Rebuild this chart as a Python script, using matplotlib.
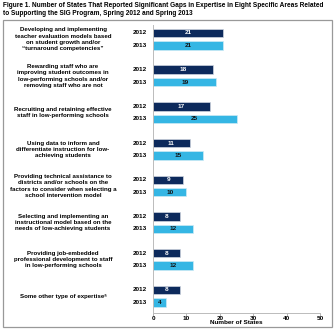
import numpy as np
import matplotlib.pyplot as plt
from matplotlib.patches import Rectangle

plt.rcParams['font.family'] = ['Liberation Sans', 'DejaVu Sans']

# data
categories = [
    "Developing and implementing\nteacher evaluation models based\non student growth and/or\n\u201cturnaround competencies\u201d",
    "Rewarding staff who are\nimproving student outcomes in\nlow-performing schools and/or\nremoving staff who are not",
    "Recruiting and retaining effective\nstaff in low-performing schools",
    "Using data to inform and\ndifferentiate instruction for low-\nachieving students",
    "Providing technical assistance to\ndistricts and/or schools on the\nfactors to consider when selecting a\nschool intervention model",
    "Selecting and implementing an\ninstructional model based on the\nneeds of low-achieving students",
    "Providing job-embedded\nprofessional development to staff\nin low-performing schools",
    "Some other type of expertise\u1d43",
]
vals_2012 = [21, 18, 17, 11, 9, 8, 8, 8]
vals_2013 = [21, 19, 25, 15, 10, 12, 12, 4]
years = ["2012", "2013"]

navy = '#0D2A5C'
light = '#35B6E4'
fs = 4.6

fig = plt.figure(figsize=(3.35, 3.30), dpi=100)
ax = fig.add_axes([0.457, 0.0515, 0.498, 0.873])

n = len(categories)
y0 = np.arange(n)
off = 0.34
h = 0.23

ax.barh(y0, vals_2012, height=h, color=navy, edgecolor='#cfd6e0', linewidth=0.5)
ax.barh(y0 + off, vals_2013, height=h, color=light, edgecolor='#cdeaf5', linewidth=0.5)

for i in range(n):
    ax.text(vals_2012[i] / 2, y0[i], str(vals_2012[i]), ha='center', va='center',
            color='white', fontsize=fs, fontweight='bold')
    ax.text(vals_2013[i] / 2, y0[i] + off, str(vals_2013[i]), ha='center', va='center',
            color='#111111', fontsize=fs, fontweight='bold')
    ax.text(-1.8, y0[i], years[0], ha='right', va='center', fontsize=fs, fontweight='bold')
    ax.text(-1.8, y0[i] + off, years[1], ha='right', va='center', fontsize=fs, fontweight='bold')
    ax.text(-27, y0[i] + off / 2, categories[i], ha='center', va='center', fontsize=4.4,
            fontweight='bold', linespacing=1.3)

ax.set_xlim(0, 50)
ax.set_ylim(7.63, -0.22)
ax.set_xticks(range(0, 51, 10))
ax.set_yticks([])
ax.tick_params(axis='x', labelsize=fs, length=2, width=0.6, color='#aaaaaa', pad=0.5)
for lab in ax.get_xticklabels():
    lab.set_fontweight('bold')
ax.set_xlabel('Number of States', fontsize=fs, fontweight='bold', va='center')
ax.xaxis.set_label_coords(0.5, -0.034)
ax.spines['top'].set_visible(False)
ax.spines['right'].set_visible(False)
for s in ['left', 'bottom']:
    ax.spines[s].set_color('#bbbbbb')
    ax.spines[s].set_linewidth(0.7)

fig.text(0.010, 0.993, "Figure 1. Number of States That Reported Significant Gaps in Expertise in Eight Specific Areas Related\n"
         "to Supporting the SIG Program, Spring 2012 and Spring 2013",
         ha='left', va='top', fontsize=4.72, fontweight='bold', linespacing=1.15)

fig.patches.append(Rectangle((3 / 335, 1 - 327 / 330), 329 / 335, 307 / 330,
                             transform=fig.transFigure, fill=False,
                             edgecolor='#999999', linewidth=0.9))

fig.savefig('out.png', dpi=100)
